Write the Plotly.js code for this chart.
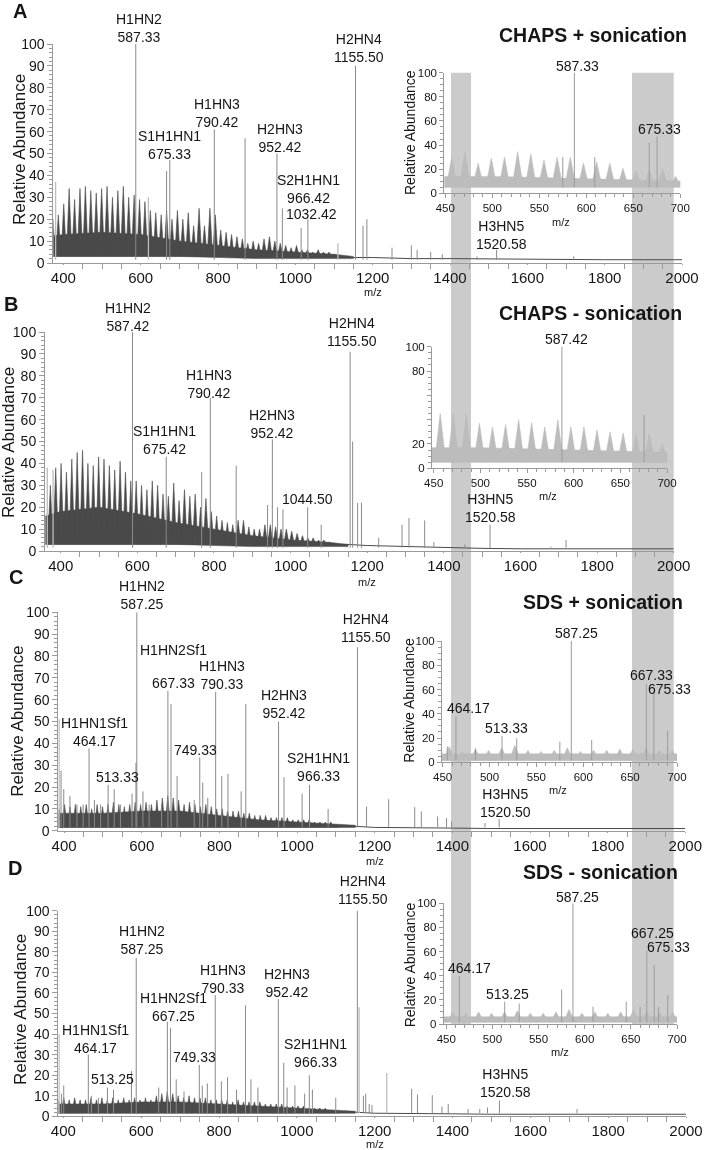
<!DOCTYPE html>
<html><head><meta charset="utf-8">
<script src="https://cdn.plot.ly/plotly-3.0.1.min.js"></script>
<style>html,body{margin:0;padding:0;background:#fff}#chart{width:704px;height:1150px}</style>
</head><body><div id="chart"></div>
<script>
// ---------------- DATA ----------------
// common oligomer ladder (m/z) of the periodic background series
const LADDER=[373,387,401,415,429,443,457,471,485,499,513,527,541,555,569,583,597,611,625,639,653,667,681,695,709,723,737,751,765,779,793,807,821,835,849,863,877,891,905,919,933,947,961,975,989,1003,1017,1031,1045,1059,1073,1087,1101];
const envA=[20,22,27,34,29,34,35,33,32,34,35,30,33,35,30,31,29,28,24,23,22,24,20,24,20,23,17,25,17,25,22,15,14,13,12,11,9,10,9,11,12,10,9,8,7,8,6,6,5,6,5,5,4];
const envB=[30,38,40,36,42,45,46,40,39,43,42,39,37,41,36,32,32,30,28,32,30,26,25,31,23,28,25,26,20,24,18,16,14,13,12,14,14,11,10,10,12,12,11,10,10,9,8,7,6,6,5,5,4];
const envC=[10,10,12,11,12,11,12,10,12,11,12,13,12,11,12,13,12,13,12,14,15,16,15,14,12,13,12,11,12,11,10,10,9,9,9,8,8,7,7,7,6,6,6,6,5,5,5,5,4,4,4,4,3];
const envD=[8,8,9,8,9,8,8,9,8,9,8,9,8,9,8,9,8,9,8,10,11,12,11,10,9,10,9,9,9,8,8,8,8,7,8,7,7,7,7,6,6,6,6,5,5,5,5,4,4,4,4,3,3];

// dense noise band (main spectra)
const bandMz=[360,400,500,600,700,800,900,1000,1100,1150];
const bandTopA=[12,13,14,13,10,8,6,5,4,3];   const bandBotA=[3,3,3,3,3,2.5,2,2,2,2];
const bandTopB=[16,18,20,17,13,10,7,5,4,3];  const bandBotB=[3,3,3,3,3,2.5,2,2,2,2];
const bandTopC=[8,8,8,9,9,7,5,4,3,2.5];      const bandBotC=[1.5,1.5,1.5,1.5,1.5,1.5,1.5,1.5,1.5,1.5];
const bandTopD=[6,6,6,7,7,6,5,4,3,2.5];      const bandBotD=[1.5,1.5,1.5,1.5,1.5,1.5,1.5,1.5,1.5,1.5];

// baseline at high m/z
const baseMz=[1100,1150,1200,1300,1400,1500,1600,1700,1800,1900,2000];
const baseA=[3,2.5,2.5,2,2,1.8,1.6,1.5,1.5,1.5,1.5];
const baseB=[3,3,2.5,2,1.5,1.2,1,1,1,1,1];
const baseC=[2,2,1.5,1.5,1.2,1,1,1,1,1,1];
const baseD=[2,2,1.5,1.5,1.2,1,1,1,1,1,1];

// distinct peaks (dark) and light-grey peaks, main spectra
const stickMzA=[587.33,667,675.33,790.42,870,952.42,966.42,1015,1032.42,1155.5,1175,1185,1250,1300,1315,1350,1380,1470,1520.58,1720];
const stickHA=[100,42,47,61,57,50,25,16,20,90,17,20,7,8,6,5,4,3,6,3];
const lightMzA=[380,620,1110]; const lightHA=[37,30,9];

const stickMzB=[587.42,675.42,768,790.42,858,940,952.42,966,980,1044.5,1080,1155.5,1162,1175,1185,1230,1291,1309,1350,1374,1455,1520.58,1680,1719];
const stickHB=[100,43,36,70,39,21,51,20,19,20,12,91,50,22,22,6,12,15,14,4,3,12,2,5];
const lightMzB=[365,380]; const lightHB=[38,37];

const stickMzC=[392,399,415,433,449,464.17,478,494,513.33,529,545,575,585,587.25,603,619,651,667.33,675.33,691,735,749.33,757,770,790.33,806,822,856,868,952.42,966.33,1013,1032,1080,1155.5,1179,1236,1303,1320,1362,1385,1398,1484,1520.5];
const stickHC=[27.5,19,16,12,12,37.7,14,12,21,19,12,17,31,100,18,12,12,64,58,25,14,33.5,22,15,63.6,25,26,18,58,50,24.5,17,21,10,84,11,14.4,10.8,8.8,6.5,5.7,4.2,3.5,5.3];
const lightMzC=[387]; const lightHC=[51];

const stickMzD=[395,401,464.17,472,490,513.25,529,575,587.25,645,667.25,675.25,690,710,749.33,757,770,790.33,806,822,845,868,882,900,952.42,966.33,975,995,1020,1032,1040,1100,1155.5,1171,1177,1186,1193,1295,1310,1348,1373,1389,1440,1470,1490,1520.58,1720];
const stickHD=[11,15,30,10,9,14,13,22,77,14,46,43,18,12,25,15,16,59,17,19,13,54,18,14,57,26,14,15,11,20,13,9,100,10,11,6,5.5,13.4,10.6,10.3,4.7,6,3.5,3.5,4.3,7.7,3.5];
const lightMzD=[389,1160,1231]; const lightHD=[40,53,21];

// insets (m/z 450-700)
const INSET_MZ=[443,457,471,485,499,513,527,541,555,569,583,597,611,625,639,653,667,681,695,709];
const insEnvA=[20,30,34.5,25,29,30,34.5,32.6,27.6,30,30,25,26,25,20.7,19,19,20.7,14,12];
const insEnvB=[40,45,45.5,44,37,34,36,40,37.5,34,40,34,34,31.5,30,29,28,29,20,15];
const insEnvC=[10,13,9,11,10,12,14,10,9,10,12,9,10,10,11,11,12,10,10,8];
const insEnvD=[8,10,9,10,9,10,11,9,9,10,12,9,10,9,10,12,11,10,10,8];
const insBandMz=[440,500,550,600,650,710];
const insTopA=[14,14,13,12,11,10]; const insBotA=[5,5,5,5,5,5];
const insTopB=[17,17,16,15,14,13]; const insBotB=[5,5,5,5,5,5];
const insTopC=[7,7,7,7,7,7];       const insBotC=[1.5,1.5,1.5,1.5,1.5,1.5];
const insTopD=[6,6,6,6,6,6];       const insBotD=[1.5,1.5,1.5,1.5,1.5,1.5];
const insStickMzA=[575,587.33,609,667,675.33]; const insStickHA=[30,100,30,42,47];
const insStickMzB=[587.42,675.42];             const insStickHB=[100,44];
const insStickMzC=[455,464.17,485,513.33,529,575,587.25,609,667.33,675.33,690];
const insStickHC=[13,37.6,11.5,21.7,19.8,17,100,18.4,64.5,58,26];
const insStickMzD=[464.17,513.25,529,575,587.25,609,645,660,667.25,675.33,680,690];
const insStickHD=[39.8,18.5,17,28.7,100,14.4,18.5,14,60.8,49,14,24];

// peak annotation texts (with m/z, value at which the text block is centred)
const labelsA=[['H1HN2<br>587.33',595.6,107.5],['S1H1HN1<br>675.33',673.7,54.1],['H1HN3<br>790.42',796.5,68.4],['H2HN3<br>952.42',960,57.1],['S2H1HN1<br>966.42',1035,33.6],['1032.42',1043,22.2],['H2HN4<br>1155.50',1164.5,98.2],['H3HN5<br>1520.58',1534,13]];
const insLabelsA=[['587.33',590.9,105.6],['675.33',678,53.3]];
const labelsB=[['H1HN2<br>587.42',576.4,107],['S1H1HN1<br>675.42',672.2,50.6],['H1HN3<br>790.42',787.1,76.4],['H2HN3<br>952.42',950.8,58],['1044.50',1043.7,23.7],['H2HN4<br>1155.50',1160.4,100],['H3HN5<br>1520.58',1521.4,19.5]];
const insLabelsB=[['587.42',592,106]];
const labelsC=[['H1HN2<br>587.25',599.8,107.7],['H1HN2Sf1',681.2,82.7],['667.33',683,67.8],['H1HN3<br>790.33',807,71.3],['H2HN3<br>952.42',966.4,57.8],['H1HN1Sf1<br>464.17',479.5,45],['749.33',739,36.9],['513.33',537,24.4],['S2H1HN1<br>966.33',1054.8,29.3],['H2HN4<br>1155.50',1177.6,92.9],['H3HN5<br>1520.50',1536.5,12.5]];
const insLabelsC=[['587.25',592.3,106.3],['667.33',672.4,71.6],['675.33',692.5,60.2],['464.17',477.8,44.5],['513.33',517.6,28]];
const labelsD=[['H1HN2<br>587.25',601.3,85.8],['H1HN3<br>790.33',811,66.8],['H2HN3<br>952.42',974,65],['H1HN2Sf1<br>667.25',682.6,53.2],['H1HN1Sf1<br>464.17',481.3,37.8],['749.33',735.8,28.7],['513.25',525.8,18.2],['S2H1HN1<br>966.33',1048.5,30.9],['H2HN4<br>1155.50',1169.3,110],['H3HN5<br>1520.58',1535.8,16.2]];
const insLabelsD=[['587.25',592.4,105.5],['667.25',673.2,75.1],['675.33',691.3,64],['464.17',475,46.1],['513.25',516.5,24.9]];

const panelLetters=['A','B','C','D'];
const panelTitles=['CHAPS + sonication','CHAPS - sonication','SDS + sonication','SDS - sonication'];

// ---------------- LAYOUT / STYLE ----------------
const W=704,H=1150;
const FONT='"Liberation Sans", Arial, Helvetica, sans-serif';
const DARK='#4a4a4a', LIGHT='#bcbcbc', STICK='#8a8a8a', AXIS='#9a9a9a', TXT='#151515', BAND='#cbcbcb';
const xd=(a,b)=>[a/W,b/W];
const yd=(t,b)=>[1-b/H,1-t/H];

const P=[
 {env:envA,bt:bandTopA,bb:bandBotA,base:baseA,sm:stickMzA,sh:stickHA,lm:lightMzA,lh:lightHA,
  ie:insEnvA,it:insTopA,ib:insBotA,ism:insStickMzA,ish:insStickHA,lab:labelsA,ilab:insLabelsA,
  mx:[53.3,682],my:[44,263],mr:[374,2000], ix:[444.3,680.3],iy:[72.7,193.3],ir:[449,700],
  letter:[20,11],title:[689,35],ytitle:[19,150],mz:292.5,itit:[410,133],imz:222,itv:true},
 {env:envB,bt:bandTopB,bb:bandBotB,base:baseB,sm:stickMzB,sh:stickHB,lm:lightMzB,lh:lightHB,
  ie:insEnvB,it:insTopB,ib:insBotB,ism:insStickMzB,ish:insStickHB,lab:labelsB,ilab:insLabelsB,
  mx:[45,673.7],my:[332,551],mr:[359,2000], ix:[432,667],iy:[346.7,468.3],ir:[448.2,700],
  letter:[11,304],title:[684,313],ytitle:[8,443],mz:581.5,itit:null,imz:496,itv:false},
 {env:envC,bt:bandTopC,bb:bandBotC,base:baseC,sm:stickMzC,sh:stickHC,lm:lightMzC,lh:lightHC,
  ie:insEnvC,it:insTopC,ib:insBotC,ism:insStickMzC,ish:insStickHC,lab:labelsC,ilab:insLabelsC,
  mx:[58.3,685.3],my:[612.3,830.7],mr:[385,2000], ix:[442,677],iy:[641,762.3],ir:[449.3,700],
  letter:[15.5,577],title:[685,602],ytitle:[18,721.7],mz:861,itit:[408.7,700],imz:790,itv:true},
 {env:envD,bt:bandTopD,bb:bandBotD,base:baseD,sm:stickMzD,sh:stickHD,lm:lightMzD,lh:lightHD,
  ie:insEnvD,it:insTopD,ib:insBotD,ism:insStickMzD,ish:insStickHD,lab:labelsD,ilab:insLabelsD,
  mx:[58.3,686],my:[910.7,1116.3],mr:[387,2000], ix:[443.7,677],iy:[903.3,1024],ir:[447.2,700],
  letter:[14.5,868],title:[680,872],ytitle:[20,1010],mz:1143.8,itit:[410.3,965],imz:1052,itv:true}
];

function triangles(mz,h,w,base){
  const x=[],y=[];
  mz.forEach((m,i)=>{x.push(m-w,m,m+w);y.push(base,h[i],base);});
  return {x,y};
}
function sticks(mz,h,base){
  const x=[],y=[];
  mz.forEach((m,i)=>{x.push(m,m,null);y.push(base,h[i],null);});
  return {x,y};
}
function bandPoly(mz,top,bot){
  return {x:mz.concat(mz.slice().reverse()), y:top.concat(bot.slice().reverse())};
}
const ax=(n)=>n===1?'':String(n);

const traces=[], annotations=[], layout={
  width:W,height:H,margin:{l:0,r:0,t:0,b:0},
  paper_bgcolor:'#ffffff',plot_bgcolor:'rgba(0,0,0,0)',
  showlegend:false,hovermode:false,font:{family:FONT,color:TXT},
  shapes:[
    {type:'rect',xref:'paper',yref:'paper',x0:451/W,x1:471/W,y0:1-1025/H,y1:1-72.7/H,fillcolor:BAND,line:{width:0},layer:'below'},
    {type:'rect',xref:'paper',yref:'paper',x0:632/W,x1:673.7/W,y0:1-1025/H,y1:1-72.7/H,fillcolor:BAND,line:{width:0},layer:'below'}
  ],
  annotations
};

function addLabel(n,text,x,y,ppu,size){
  let ys=0;
  if(y>100){ys=(y-100)*ppu;y=100;}
  annotations.push({xref:'x'+ax(n),yref:'y'+ax(n),x,y,yshift:ys,text,showarrow:false,
    xanchor:'center',yanchor:'middle',font:{family:FONT,size:size||14,color:TXT}});
}
function paperText(text,px,py,size,opts){
  annotations.push(Object.assign({xref:'paper',yref:'paper',x:px/W,y:1-py/H,text,showarrow:false,
    xanchor:'center',yanchor:'middle',font:{family:FONT,size,color:TXT}},opts||{}));
}

P.forEach((p,k)=>{
  const nm=2*k+1, ni=2*k+2;
  const xa='x'+ax(nm), ya='y'+ax(nm), xi='x'+ax(ni), yi='y'+ax(ni);
  // ---- main spectrum
  const bp=bandPoly(bandMz,p.bt,p.bb);
  traces.push({type:'scatter',mode:'lines',x:bp.x,y:bp.y,fill:'toself',fillcolor:DARK,line:{color:DARK,width:0.5},xaxis:xa,yaxis:ya});
  const tr=triangles(LADDER,p.env,7,p.bb[0]);
  traces.push({type:'scatter',mode:'lines',x:tr.x,y:tr.y,fill:'toself',fillcolor:DARK,line:{color:DARK,width:0.6},xaxis:xa,yaxis:ya});
  traces.push({type:'scatter',mode:'lines',x:baseMz,y:p.base,line:{color:DARK,width:1},xaxis:xa,yaxis:ya});
  const ls=sticks(p.lm,p.lh,1.5);
  traces.push({type:'scatter',mode:'lines',x:ls.x,y:ls.y,line:{color:LIGHT,width:1.3},xaxis:xa,yaxis:ya});
  const ds=sticks(p.sm,p.sh,1.5);
  traces.push({type:'scatter',mode:'lines',x:ds.x,y:ds.y,line:{color:STICK,width:1},xaxis:xa,yaxis:ya});
  // ---- inset
  const ibp=bandPoly(insBandMz,p.it,p.ib);
  traces.push({type:'scatter',mode:'lines',x:ibp.x,y:ibp.y,fill:'toself',fillcolor:LIGHT,line:{color:LIGHT,width:0.5},xaxis:xi,yaxis:yi});
  const itr=triangles(INSET_MZ,p.ie,6,p.ib[0]);
  traces.push({type:'scatter',mode:'lines',x:itr.x,y:itr.y,fill:'toself',fillcolor:LIGHT,line:{color:LIGHT,width:0.6},xaxis:xi,yaxis:yi});
  const iss=sticks(p.ism,p.ish,p.ib[0]);
  traces.push({type:'scatter',mode:'lines',x:iss.x,y:iss.y,line:{color:'#9c9c9c',width:1},xaxis:xi,yaxis:yi});

  // ---- axes
  const common={showline:true,linecolor:AXIS,linewidth:1,ticks:'outside',tickcolor:AXIS,tickwidth:1,
    showgrid:false,zeroline:false,fixedrange:true};
  // major ticks kept short so labels sit close; the visible marks come from the minor ticks (every 50)
  layout['xaxis'+ax(nm)]=Object.assign({},common,{domain:xd(...p.mx),range:p.mr,anchor:ya,
    tick0:0,dtick:200,ticklen:1,tickfont:{family:FONT,size:15,color:TXT},
    minor:{ticks:'outside',tick0:0,dtick:50,ticklen:5,tickcolor:AXIS,showgrid:false}});
  layout['yaxis'+ax(nm)]=Object.assign({},common,{domain:yd(...p.my),range:[0,100],anchor:xa,
    tick0:0,dtick:10,ticklen:5,tickfont:{family:FONT,size:14,color:TXT},
    minor:{ticks:'outside',tick0:0,dtick:2,ticklen:3,tickcolor:AXIS,showgrid:false}});
  layout['xaxis'+ax(ni)]=Object.assign({},common,{domain:xd(...p.ix),range:p.ir,anchor:yi,
    tick0:0,dtick:50,ticklen:4,tickfont:{family:FONT,size:11.5,color:TXT},
    minor:{ticks:'outside',tick0:0,dtick:10,ticklen:3,tickcolor:AXIS,showgrid:false}});
  const iy=Object.assign({},common,{domain:yd(...p.iy),range:[0,100],anchor:xi,ticklen:4,
    tickfont:{family:FONT,size:11.5,color:TXT},tickmode:'array',tickvals:[0,20,40,60,80,100],
    ticktext:p.itv?['0','20','40','60','80','100']:['0','20','','','80','100'],
    minor:{ticks:'outside',tickmode:'linear',tick0:0,dtick:5,ticklen:3,tickcolor:AXIS,showgrid:false}});
  layout['yaxis'+ax(ni)]=iy;

  // ---- texts
  const ppuM=(p.my[1]-p.my[0])/100, ppuI=(p.iy[1]-p.iy[0])/100;
  p.lab.forEach(l=>addLabel(nm,l[0],l[1],l[2],ppuM,14));
  p.ilab.forEach(l=>addLabel(ni,l[0],l[1],l[2],ppuI,14));
  paperText('<b>'+panelLetters[k]+'</b>',p.letter[0],p.letter[1],20);
  paperText('<b>'+panelTitles[k]+'</b>',p.title[0],p.title[1],19.5,{xanchor:'right'});
  paperText('Relative Abundance',p.ytitle[0],p.ytitle[1],17,{textangle:-90});
  annotations.push({xref:xa,yref:'paper',x:1200,y:1-p.mz/H,text:'m/z',showarrow:false,xanchor:'center',yanchor:'middle',font:{family:FONT,size:11,color:TXT}});
  if(p.itit) paperText('Relative Abundance',p.itit[0],p.itit[1],14,{textangle:-90});
  annotations.push({xref:xi,yref:'paper',x:573,y:1-p.imz/H,text:'m/z',showarrow:false,xanchor:'center',yanchor:'middle',font:{family:FONT,size:11,color:TXT}});
});

Plotly.newPlot('chart',traces,layout,{staticPlot:true,displayModeBar:false}).then(()=>{
  document.querySelectorAll('.scatterlayer').forEach(g=>{g.style.mixBlendMode='multiply';});
});
</script></body></html>
